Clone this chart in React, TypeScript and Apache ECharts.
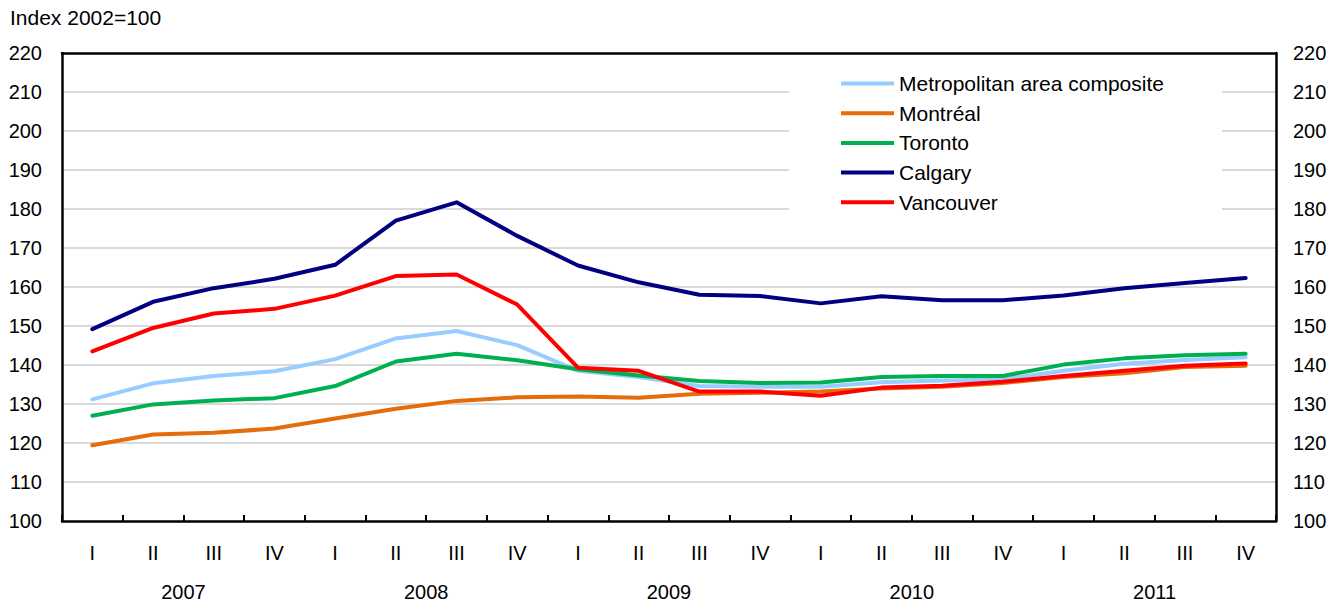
import React, { useEffect, useRef } from "react";
import * as echarts from "echarts";

const quarters = ["I", "II", "III", "IV", "I", "II", "III", "IV", "I", "II", "III", "IV", "I", "II", "III", "IV", "I", "II", "III", "IV"];
const years = ["2007", "2008", "2009", "2010", "2011"];

const metro = [131.2, 135.3, 137.2, 138.4, 141.5, 146.8, 148.7, 145.1, 138.5, 136.9, 134.6, 134.4, 134.4, 135.6, 136.0, 136.3, 138.5, 140.3, 141.3, 142.0];
const montreal = [119.4, 122.2, 122.6, 123.7, 126.3, 128.8, 130.8, 131.7, 131.9, 131.6, 132.6, 132.9, 133.2, 134.0, 134.4, 135.4, 136.9, 137.9, 139.5, 139.8];
const toronto = [127.0, 129.9, 130.9, 131.5, 134.6, 140.9, 142.9, 141.2, 138.9, 137.3, 135.9, 135.4, 135.5, 136.9, 137.2, 137.2, 140.1, 141.7, 142.5, 142.9];
const calgary = [149.2, 156.2, 159.7, 162.1, 165.7, 177.0, 181.7, 173.1, 165.5, 161.2, 158.0, 157.7, 155.8, 157.6, 156.6, 156.6, 157.8, 159.7, 161.0, 162.3];
const vancouver = [143.5, 149.5, 153.2, 154.4, 157.8, 162.8, 163.2, 155.5, 139.3, 138.5, 133.2, 133.2, 132.1, 134.2, 134.7, 135.7, 137.2, 138.5, 139.8, 140.4];

const seriesNames = ["Metropolitan area composite", "Montréal", "Toronto", "Calgary", "Vancouver"];
const seriesColors = ["#99ccff", "#e46c0a", "#00b050", "#000080", "#ff0000"];
const seriesData = [metro, montreal, toronto, calgary, vancouver];

const FONT = "'Liberation Sans', Arial, sans-serif";

export default function App() {
  const ref = useRef<HTMLDivElement>(null);
  useEffect(() => {
    document.body.style.margin = "0";
    if (!ref.current) return;
    const chart = echarts.init(ref.current, undefined, { renderer: "svg" });
    const axisLineStyle = { color: "#000", width: 2.5 };
    chart.setOption({
      animation: false,
      textStyle: { fontFamily: FONT, color: "#000" },
      title: {
        text: "Index 2002=100",
        left: 5,
        top: 2,
        textStyle: { fontFamily: FONT, fontSize: 21, fontWeight: "normal", color: "#000" },
      },
      grid: { left: 62, right: 67, top: 53, bottom: 87, containLabel: false },
      graphic: [
        {
          type: "rect",
          z: 3,
          shape: { x: 789, y: 56, width: 433, height: 164 },
          style: { fill: "#fff" },
        },
      ],
      legend: {
        show: true,
        orient: "vertical",
        left: 841,
        top: 73,
        padding: 0,
        icon: "rect",
        itemWidth: 53,
        itemHeight: 4,
        itemGap: 8.7,
        z: 5,
        textStyle: { fontFamily: FONT, fontSize: 21, color: "#000", lineHeight: 20, padding: [0, 0, 0, 0] },
        data: seriesNames,
      },
      xAxis: [
        {
          type: "category",
          data: quarters,
          position: "bottom",
          boundaryGap: true,
          axisLine: { show: true, lineStyle: axisLineStyle },
          axisTick: { show: true, inside: true, length: 6, interval: 0, lineStyle: { color: "#000", width: 2 } },
          axisLabel: { interval: 0, margin: 22, fontSize: 20, color: "#000", fontFamily: FONT },
          splitLine: { show: false },
        },
        {
          type: "category",
          data: years,
          position: "bottom",
          boundaryGap: true,
          axisLine: { show: false },
          axisTick: { show: false },
          axisLabel: { interval: 0, margin: 61, fontSize: 20, color: "#000", fontFamily: FONT },
          splitLine: { show: false },
        },
        {
          type: "category",
          data: quarters,
          position: "top",
          boundaryGap: true,
          axisLine: { show: true, lineStyle: axisLineStyle },
          axisTick: { show: false },
          axisLabel: { show: false },
          splitLine: { show: false },
        },
      ],
      yAxis: [
        {
          type: "value",
          min: 100,
          max: 220,
          interval: 10,
          position: "left",
          axisLine: { show: true, lineStyle: axisLineStyle },
          axisTick: { show: false },
          axisLabel: { margin: 20, fontSize: 20, color: "#000", fontFamily: FONT },
          splitLine: { show: true, showMinLine: false, showMaxLine: false, lineStyle: { color: "#d9d9d9", width: 2 } },
        },
        {
          type: "value",
          min: 100,
          max: 220,
          interval: 10,
          position: "right",
          axisLine: { show: true, lineStyle: axisLineStyle },
          axisTick: { show: false },
          axisLabel: { margin: 17, fontSize: 20, color: "#000", fontFamily: FONT },
          splitLine: { show: false },
        },
      ],
      series: seriesNames.map((name, i) => ({
        name,
        type: "line",
        xAxisIndex: 0,
        yAxisIndex: 0,
        data: seriesData[i],
        symbol: "none",
        z: 2,
        itemStyle: { color: seriesColors[i] },
        lineStyle: { color: seriesColors[i], width: 4, cap: "round", join: "round" },
      })),
    });
    return () => chart.dispose();
  }, []);
  return <div ref={ref} style={{ width: 1343, height: 608 }} />;
}
